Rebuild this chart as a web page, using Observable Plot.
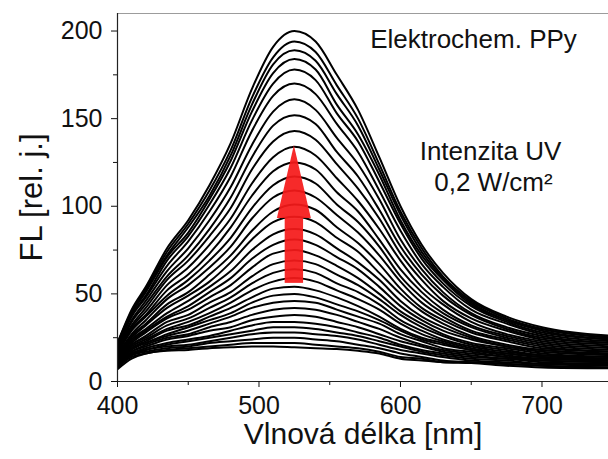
<!DOCTYPE html>
<html>
<head>
<meta charset="utf-8">
<script src="https://cdn.jsdelivr.net/npm/d3@7"></script>
<script src="https://cdn.jsdelivr.net/npm/@observablehq/plot@0.6"></script>
<style>
  body { margin: 0; background: #fff; }
  #chart svg { display: block; }
</style>
</head>
<body>
<div id="chart"></div>
<script>
// Emission wavelengths (nm) at which each fluorescence scan is sampled
const wavelength = [400, 410, 420, 435, 450, 465, 480, 495, 510, 525, 540, 555, 570, 585, 600, 615, 630, 650, 675, 700, 750];

// Fluorescence intensity [rel. j.] of successive scans under UV exposure, strongest first
const spectra = [
  [22, 41, 54, 76, 92, 112, 136, 167, 191, 200, 194, 175, 155, 128, 100, 78, 62, 47, 37, 31, 26],
  [22, 40, 53, 74, 90, 109, 132, 162, 185, 194, 188, 169, 150, 124, 97, 76, 60, 46, 36, 30, 25],
  [21, 39, 52, 72, 88, 106, 129, 158, 181, 189, 183, 164, 146, 121, 95, 74, 59, 45, 35, 30, 25],
  [21, 39, 51, 71, 85, 104, 126, 154, 176, 184, 178, 158, 141, 118, 92, 72, 58, 44, 35, 29, 24],
  [20, 38, 49, 69, 83, 101, 122, 149, 170, 178, 172, 153, 137, 114, 90, 70, 56, 43, 34, 28, 24],
  [20, 37, 48, 66, 80, 97, 117, 143, 163, 170, 164, 147, 131, 109, 86, 67, 54, 41, 33, 27, 23],
  [19, 35, 46, 63, 76, 92, 111, 135, 154, 161, 155, 139, 124, 104, 81, 64, 51, 39, 31, 26, 22],
  [18, 34, 44, 60, 72, 87, 105, 128, 146, 152, 147, 131, 117, 98, 77, 61, 49, 38, 30, 25, 22],
  [18, 32, 42, 58, 69, 83, 99, 121, 137, 143, 138, 124, 110, 93, 73, 58, 46, 36, 29, 24, 21],
  [17, 31, 40, 55, 65, 78, 93, 113, 128, 134, 129, 116, 103, 87, 69, 54, 44, 34, 27, 23, 20],
  [16, 30, 38, 52, 61, 73, 88, 106, 120, 125, 121, 108, 97, 81, 64, 51, 41, 32, 26, 22, 19],
  [16, 29, 37, 49, 58, 69, 82, 99, 112, 117, 113, 101, 91, 77, 60, 48, 39, 31, 25, 21, 18],
  [15, 27, 35, 47, 55, 65, 77, 93, 105, 109, 105, 95, 85, 72, 57, 45, 37, 29, 24, 20, 17],
  [14, 26, 33, 44, 51, 61, 72, 86, 97, 101, 98, 88, 79, 67, 53, 42, 35, 28, 23, 19, 17],
  [14, 25, 32, 42, 49, 57, 68, 81, 91, 94, 91, 82, 74, 62, 50, 40, 33, 26, 21, 18, 16],
  [13, 24, 30, 39, 46, 54, 63, 75, 84, 87, 84, 76, 68, 58, 46, 37, 31, 25, 20, 18, 15],
  [13, 23, 29, 37, 43, 51, 59, 70, 78, 81, 78, 71, 64, 54, 43, 35, 29, 24, 20, 17, 15],
  [12, 22, 28, 36, 41, 48, 55, 65, 73, 75, 72, 66, 59, 50, 40, 33, 27, 22, 19, 16, 14],
  [12, 21, 26, 34, 38, 45, 51, 60, 67, 69, 67, 61, 55, 47, 38, 31, 26, 21, 18, 15, 14],
  [11, 21, 25, 32, 36, 42, 48, 56, 62, 64, 62, 56, 51, 44, 35, 29, 24, 20, 17, 15, 13],
  [11, 20, 24, 30, 34, 39, 45, 52, 57, 59, 57, 52, 47, 41, 33, 27, 23, 19, 16, 14, 13],
  [11, 19, 23, 29, 32, 37, 42, 48, 53, 54, 52, 48, 43, 37, 30, 25, 22, 18, 16, 14, 12],
  [10, 19, 22, 27, 31, 35, 39, 45, 49, 50, 48, 44, 40, 35, 29, 24, 21, 18, 15, 13, 12],
  [10, 18, 22, 26, 29, 33, 37, 42, 45, 46, 45, 41, 37, 33, 27, 23, 19, 17, 14, 13, 12],
  [10, 17, 21, 25, 27, 31, 34, 38, 41, 42, 41, 38, 34, 30, 25, 21, 18, 16, 14, 12, 11],
  [9, 17, 20, 24, 26, 29, 31, 35, 37, 38, 37, 34, 31, 27, 23, 20, 17, 15, 13, 12, 11],
  [9, 16, 19, 22, 24, 26, 29, 32, 34, 34, 33, 31, 28, 25, 21, 18, 16, 14, 13, 11, 10],
  [9, 16, 18, 21, 23, 25, 27, 29, 31, 31, 30, 28, 26, 23, 20, 17, 15, 13, 12, 10, 10],
  [9, 15, 18, 20, 21, 23, 25, 27, 28, 28, 27, 26, 24, 21, 18, 16, 14, 12, 11, 10, 9],
  [8, 15, 17, 19, 20, 22, 23, 24, 25, 25, 24, 23, 21, 19, 16, 14, 12, 11, 10, 9, 8],
  [8, 14, 16, 18, 19, 20, 21, 22, 22, 22, 21, 20, 19, 17, 14, 13, 11, 11, 10, 9, 8],
  [7, 13, 16, 17.5, 18, 19, 19.5, 20, 20, 19.5, 19, 18.5, 17.5, 16, 13, 12, 11, 10.5, 9, 8, 7.5]
];

// Axis ticks
const xTicks = [400, 500, 600, 700];
const xMinorTicks = [450, 550, 650];
const yTicks = [0, 50, 100, 150, 200];
const yMinorTicks = [25, 75, 125, 175];

// Growth arrow: wavelength, tail and tip intensity
const arrowAt = 525;
const arrowFrom = 56;
const arrowTo = 134.5;

// Long-format rows for the line mark
const rows = spectra.flatMap((scan, k) =>
  scan.map((fl, i) => ({scan: k, wl: wavelength[i], fl}))
);

const shaftHalf = 6.5, headHalf = 12, headBase = 93;
const shaft = [{x1: arrowAt - shaftHalf, x2: arrowAt + shaftHalf, y1: arrowFrom, y2: headBase}];
const head = [
  {x: arrowAt - headHalf, lo: headBase, hi: headBase},
  {x: arrowAt, lo: headBase, hi: arrowTo},
  {x: arrowAt + headHalf, lo: headBase, hi: headBase}
];

const font = '"Liberation Sans", Arial, Helvetica, sans-serif';
const red = "#f51a1a";

const chart = Plot.plot({
  width: 608,
  height: 459,
  marginLeft: 117,
  marginRight: 0,
  marginTop: 13,
  marginBottom: 78,
  style: {fontFamily: font, fontSize: "25px", background: "#fff", color: "#111"},
  x: {domain: [400, 747]},
  y: {domain: [0, 210]},
  marks: [
    Plot.line(rows, {x: "wl", y: "fl", z: "scan", stroke: "#000", strokeWidth: 2, curve: "monotone-x", clip: true}),
    Plot.rect(shaft, {x1: "x1", x2: "x2", y1: "y1", y2: "y2", fill: red, fillOpacity: 0.93}),
    Plot.areaY(head, {x: "x", y1: "lo", y2: "hi", fill: red, fillOpacity: 0.93}),
    Plot.ruleY([210], {stroke: "#9c9c9c", strokeWidth: 1}),
    Plot.ruleX([400], {stroke: "#222", strokeWidth: 1.2}),
    Plot.ruleY([0], {stroke: "#222", strokeWidth: 1.2}),
    Plot.axisY(yTicks, {tickSize: 6, tickPadding: 9, label: null, fontSize: 25}),
    Plot.axisY(yMinorTicks, {tickSize: 4, tickFormat: () => "", label: null}),
    Plot.axisX(xTicks, {tickSize: 6, tickPadding: 9, label: null, fontSize: 25}),
    Plot.axisX(xMinorTicks, {tickSize: 4, tickFormat: () => "", label: null}),
    Plot.text(["Vlnová délka [nm]"], {frameAnchor: "bottom", textAnchor: "middle", lineAnchor: "middle", dy: 53, fontSize: 30}),
    Plot.text(["FL [rel. j.]"], {frameAnchor: "left", textAnchor: "middle", lineAnchor: "middle", rotate: -90, dx: -85, fontSize: 31}),
    Plot.text(["Elektrochem. PPy"], {x: 651.6, y: 195.3, textAnchor: "middle", lineAnchor: "middle", fontSize: 26}),
    Plot.text(["Intenzita UV"], {x: 663.6, y: 131.4, textAnchor: "middle", lineAnchor: "middle", fontSize: 26}),
    Plot.text(["0,2 W/cm²"], {x: 665.7, y: 113.7, textAnchor: "middle", lineAnchor: "middle", fontSize: 26})
  ]
});

document.getElementById("chart").append(chart);
</script>
</body>
</html>
